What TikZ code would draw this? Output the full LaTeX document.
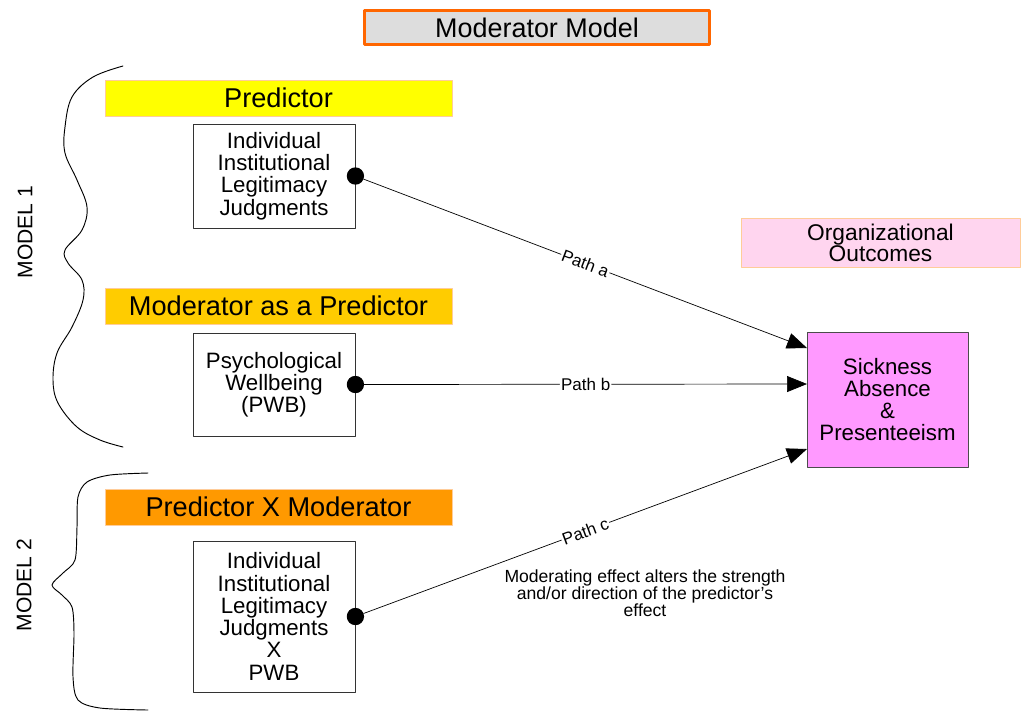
\documentclass[tikz,border=0pt]{standalone}
\usepackage{fontspec}
\setmainfont{Liberation Sans}
\usetikzlibrary{arrows.meta}
\definecolor{titlegray}{HTML}{DDDDDD}
\definecolor{titleorange}{HTML}{FF6600}
\definecolor{peach}{HTML}{FFCC99}
\definecolor{predyellow}{HTML}{FFFF00}
\definecolor{modgold}{HTML}{FFCC00}
\definecolor{interorange}{HTML}{FF9900}
\definecolor{outpink}{HTML}{FFD5EF}
\definecolor{sickpink}{HTML}{FF99FF}
\tikzset{
  banner/.style={draw=peach,line width=0.8pt,minimum width=10.41cm,minimum height=1.08cm,inner sep=0pt,font=\fontsize{23.2}{23}\selectfont},
  varbox/.style={draw=black!80,fill=white,line width=0.7pt,minimum width=4.86cm,inner sep=0pt,align=center,font=\fontsize{19}{19}\selectfont},
  blob/.style={circle,fill=black,minimum size=0.52cm,inner sep=0pt},
  pathlbl/.style={sloped,midway,fill=white,inner sep=1pt,font=\fontsize{14.5}{14.5}\selectfont},
  brace/.style={line width=0.8pt}
}
\begin{document}
\begin{tikzpicture}[line cap=round,line join=round,>={Triangle[length=0.6cm,width=0.48cm]},x=0.03cm,y=-0.03cm]
        \useasboundingbox (0,0) rectangle (1021,715);
        % title and headings
        \node[draw=titleorange,line width=2.4pt,fill=titlegray,minimum width=10.35cm,minimum height=1.02cm,inner sep=0pt,font=\fontsize{23}{23}\selectfont] (title) at (537,27.5) {Moderator Model};
        \node[banner,fill=predyellow] (predictor) at (278.5,98) {Predictor};
        \node[banner,fill=modgold] (moderator) at (278.5,306) {Moderator as a Predictor};
        \node[banner,fill=interorange] (interaction) at (278.5,507) {Predictor X Moderator};
        \node[banner,fill=outpink,minimum width=8.37cm,minimum height=1.47cm,align=center,font=\fontsize{19.4}{18}\selectfont] (outcomes) at (880.5,242.5) {Organizational\\Outcomes};
        % variables
        \node[varbox,minimum height=3.12cm] (iilj) at (274,176) {Individual\\Institutional\\Legitimacy\\Judgments};
        \node[varbox,minimum height=3.09cm] (pwb) at (274,384.5) {Psychological\\Wellbeing\\(PWB)};
        \node[varbox,minimum height=4.53cm] (iiljxpwb) at (274,616.5) {Individual\\Institutional\\Legitimacy\\Judgments\\X\\PWB};
        \node[draw=black!70,fill=sickpink,line width=0.8pt,minimum width=4.83cm,minimum height=4.05cm,inner sep=0pt,align=center,font=\fontsize{19}{19}\selectfont] (sick) at (887.5,399.5) {Sickness\\Absence\\\&\\Presenteeism};
        \node[blob] (da) at (iilj.east) {};
        \node[blob] (db) at (pwb.east) {};
        \node[blob] (dc) at (iiljxpwb.east) {};
        \coordinate (ha) at (807,348);
        \coordinate (hb) at (807,384);
        \coordinate (hc) at (807,449);
        % paths
        \draw[->,line width=0.6pt] (da) -- node[pathlbl] {Path a} (ha);
        \draw[->,line width=0.6pt] (db) -- node[pathlbl] {Path b} (hb);
        \draw[->,line width=0.6pt] (dc) -- node[pathlbl] {Path c} (hc);
        \node[align=center,font=\fontsize{15}{14.5}\selectfont] (note) at (645,593) {Moderating effect alters the strength\\and/or direction of the predictor's\\effect};
        % braces
        \draw[brace] plot[smooth,tension=0.6] coordinates {(123,66) (93,77) (72,97) (65,127) (65,153) (77,180) (87,207) (82,230) (65,250) (68,263) (82,280) (83,300) (72,327) (57,353) (53,380) (58,403) (77,427) (100,440) (123,447)};
        \draw[brace] plot[smooth,tension=0.5] coordinates {(148,473) (110,475) (87,482) (78,497) (77,527) (75,560) (63,573) (52,585) (62,595) (72,607) (74,633) (73,677) (78,700) (100,708) (148,710)};
        \node[rotate=90,font=\fontsize{18}{18}\selectfont] (model1) at (25,232) {MODEL 1};
        \node[rotate=90,font=\fontsize{18}{18}\selectfont] (model2) at (24,585) {MODEL 2};
    \end{tikzpicture}
\end{document}
